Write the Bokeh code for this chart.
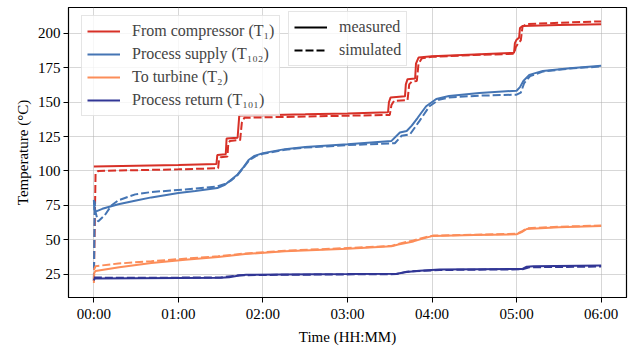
from bokeh.plotting import figure
from bokeh.models import Legend, LegendItem, FixedTicker, Range1d
from bokeh.embed import file_html
from bokeh.resources import INLINE

# ---- data (time in hours, temperature in degC) ----
time_ticks = [0, 1, 2, 3, 4, 5, 6]
time_labels = ["00:00", "01:00", "02:00", "03:00", "04:00", "05:00", "06:00"]
temp_ticks = [25, 50, 75, 100, 125, 150, 175, 200]

t1_meas_t = [0.0, 0.5, 1.0, 1.45, 1.46, 1.56, 1.57, 1.70, 1.72, 2.0, 2.5, 3.0, 3.48, 3.49, 3.51, 3.68, 3.69,
             3.71, 3.80, 3.81, 3.84, 4.0, 4.5, 4.97, 4.98, 5.0, 5.03, 5.04, 5.07, 5.5, 6.0]
t1_meas_v = [103.2, 103.8, 104.4, 105.1, 111.6, 112.2, 123.6, 124.2, 140.4, 140.6, 141.2, 141.9, 142.8, 150.0, 153.5,
             154.3, 163.0, 166.8, 167.3, 178.0, 182.5, 183.5, 184.8, 186.0, 193.0, 195.5, 197.0, 204.0, 205.5,
             206.2, 206.8]
t1_sim_t = [0.0, 0.02, 0.05, 0.5, 1.0, 1.47, 1.48, 1.50, 1.58, 1.59, 1.61, 1.73, 1.75, 1.78, 2.0, 2.5, 3.0,
            3.50, 3.52, 3.55, 3.71, 3.73, 3.76, 3.82, 3.84, 3.88, 4.0, 4.5, 4.97, 4.99, 5.02, 5.05, 5.07,
            5.12, 5.5, 6.0]
t1_sim_v = [20.0, 98.0, 100.0, 100.6, 101.2, 102.0, 108.0, 110.0, 110.5, 120.0, 121.9, 122.5, 135.0, 138.7,
            139.0, 139.6, 140.2, 140.8, 148.0, 151.0, 151.5, 163.0, 165.0, 165.5, 178.0, 182.0, 183.0, 184.4,
            185.2, 190.0, 193.0, 195.0, 205.0, 206.8, 207.8, 208.8]

t102_meas_t = [0.0, 0.005, 0.02, 0.1, 0.29, 0.5, 0.68, 1.0, 1.2, 1.46, 1.55, 1.62, 1.70, 1.76, 1.83, 1.9, 2.0,
               2.26, 2.5, 3.0, 3.52, 3.62, 3.70, 3.76, 3.83, 3.93, 4.05, 4.2, 4.56, 5.0, 5.04, 5.08, 5.15,
               5.31, 5.63, 6.0]
t102_meas_v = [79.0, 72.0, 70.5, 72.5, 75.8, 78.5, 80.8, 84.0, 85.5, 87.6, 90.0, 93.5, 97.5, 102.0, 108.0,
               111.0, 113.0, 115.9, 117.5, 119.5, 121.9, 128.0, 129.1, 133.0, 138.7, 147.1, 152.4, 154.5,
               156.7, 158.4, 161.0, 165.5, 169.9, 172.8, 174.7, 176.6]
t102_sim_t = [0.0, 0.01, 0.02, 0.05, 0.13, 0.21, 0.29, 0.49, 0.68, 1.08, 1.46, 1.55, 1.62, 1.70, 1.77, 1.84,
              1.92, 2.0, 2.26, 2.5, 3.0, 3.56, 3.64, 3.74, 3.85, 3.97, 4.08, 4.2, 4.56, 5.0, 5.05, 5.09, 5.16,
              5.31, 5.63, 6.0]
t102_sim_v = [20.0, 78.0, 70.0, 63.2, 67.9, 75.1, 78.7, 83.0, 84.7, 86.6, 88.8, 90.5, 93.0, 97.0, 102.5,
              108.0, 111.0, 112.5, 115.5, 117.0, 118.8, 120.2, 125.6, 126.7, 136.3, 147.1, 151.8, 153.5,
              154.8, 155.5, 157.0, 164.0, 169.0, 172.3, 174.5, 176.0]

t2_meas_t = [0.0, 0.005, 0.02, 0.3, 0.68, 1.08, 1.47, 1.79, 2.26, 3.0, 3.52, 3.6, 3.78, 3.9, 4.01, 4.5, 5.0,
             5.06, 5.12, 5.5, 6.0]
t2_meas_v = [18.5, 26.0, 27.2, 30.0, 33.1, 35.5, 37.5, 39.6, 41.6, 43.5, 45.2, 46.5, 48.8, 51.0, 52.8, 53.4,
             54.0, 55.5, 57.8, 59.0, 60.0]
t2_sim_t = [0.0, 0.02, 0.29, 0.68, 1.47, 1.79, 2.26, 3.0, 3.52, 3.6, 3.78, 3.9, 4.01, 4.5, 5.0, 5.06, 5.12,
            5.5, 6.0]
t2_sim_v = [28.0, 30.8, 32.7, 34.4, 38.0, 40.0, 42.0, 44.0, 45.5, 47.0, 49.5, 51.5, 53.0, 53.6, 54.3, 56.0,
            58.3, 59.5, 60.3]

t101_meas_t = [0.0, 0.01, 0.5, 1.0, 1.5, 1.6, 1.72, 1.8, 2.2, 3.0, 3.58, 3.7, 3.85, 4.09, 5.07, 5.12, 5.2, 6.0]
t101_meas_v = [20.5, 21.8, 22.0, 22.2, 22.4, 22.8, 24.0, 24.5, 24.7, 25.0, 25.3, 26.5, 27.5, 28.3, 28.8,
               30.4, 30.8, 31.2]
t101_sim_t = [0.0, 0.5, 1.5, 1.72, 2.2, 3.58, 3.7, 4.09, 5.07, 5.15, 6.0]
t101_sim_v = [22.5, 22.3, 22.6, 24.2, 24.5, 25.0, 26.8, 28.0, 28.5, 30.0, 30.5]

series = [
    ("From compressor (T\u2081)", "#d73027", t1_meas_t, t1_meas_v, t1_sim_t, t1_sim_v),
    ("Process supply (T\u2081\u2080\u2082)", "#4575b4", t102_meas_t, t102_meas_v, t102_sim_t, t102_sim_v),
    ("To turbine (T\u2082)", "#fc8d59", t2_meas_t, t2_meas_v, t2_sim_t, t2_sim_v),
    ("Process return (T\u2081\u2080\u2081)", "#313695", t101_meas_t, t101_meas_v, t101_sim_t, t101_sim_v),
]

FONT = "Liberation Serif"
LW = 2
DASH = "8 3"

p = figure(width=638, height=347, x_range=Range1d(-0.3, 6.3), y_range=Range1d(8.0, 218.9),
           output_backend="svg", toolbar_location=None,
           min_border_left=68, min_border_right=12, min_border_top=7, min_border_bottom=47)

items = []
for label, color, mt, mv, st, sv in series:
    rm = p.line(mt, mv, line_color=color, line_width=LW)
    p.line(st, sv, line_color=color, line_width=LW, line_dash=DASH)
    items.append(LegendItem(label=label, renderers=[rm]))

# style-only renderers for the second legend, placed outside the visible range
r_meas = p.line([-10, -9], [-100, -100], line_color="black", line_width=LW)
r_sim = p.line([-10, -9], [-100, -100], line_color="black", line_width=LW, line_dash=DASH)

def style_legend(leg):
    leg.label_text_font = FONT
    leg.label_text_font_size = "16px"
    leg.glyph_width = 33
    leg.glyph_height = 20
    leg.label_height = 20
    leg.label_standoff = 12
    leg.spacing = 3
    leg.padding = 5
    leg.margin = 0
    leg.border_line_color = "#cccccc"
    leg.border_line_width = 1
    leg.background_fill_alpha = 0.8

leg1 = Legend(items=items, location=(13, 181))
style_legend(leg1)
leg2 = Legend(items=[LegendItem(label="measured", renderers=[r_meas]),
                     LegendItem(label="simulated", renderers=[r_sim])], location=(220, 231))
style_legend(leg2)
p.add_layout(leg1)
p.add_layout(leg2)

# axes
p.xaxis.ticker = FixedTicker(ticks=time_ticks)
p.xaxis.major_label_overrides = {t: l for t, l in zip(time_ticks, time_labels)}
p.yaxis.ticker = FixedTicker(ticks=temp_ticks)
p.xaxis.axis_label = "Time (HH:MM)"
p.yaxis.axis_label = "Temperature (\u00b0C)"
for ax in (p.xaxis, p.yaxis):
    ax.axis_label_text_font = FONT
    ax.axis_label_text_font_style = "normal"
    ax.axis_label_text_font_size = "15px"
    ax.major_label_text_font = FONT
    ax.major_label_text_font_size = "15px"
    ax.major_label_text_color = "black"
    ax.axis_label_text_color = "black"
    ax.minor_tick_line_color = None
    ax.major_tick_out = 5
    ax.major_tick_in = 0
    ax.major_tick_line_color = "black"
    ax.axis_line_color = "black"
    ax.major_label_standoff = 3
    ax.axis_label_standoff = 4

p.grid.grid_line_color = "#b0b0b0"
p.grid.grid_line_alpha = 0.5
p.grid.grid_line_width = 1
p.outline_line_color = "black"
p.outline_line_alpha = 1
p.outline_line_width = 1.2

open("out.html", "w").write(file_html(p, INLINE))
